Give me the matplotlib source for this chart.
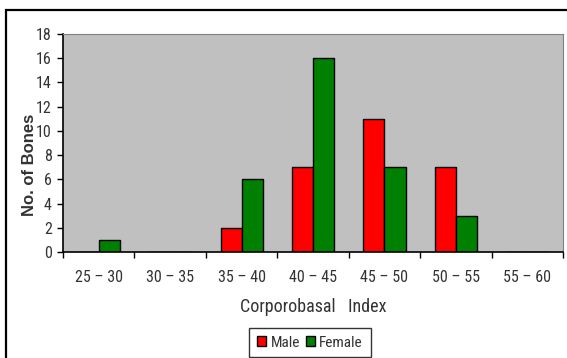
import numpy as np
import matplotlib
matplotlib.use("Agg")
import matplotlib.pyplot as plt
from matplotlib.patches import Rectangle

FONT = ["Roboto Condensed", "DejaVu Sans"]
TXT = "#333333"

categories = ["25 – 30", "30 – 35", "35 – 40", "40 – 45", "45 – 50", "50 – 55", "55 – 60"]
male = [0, 0, 2, 7, 11, 7, 0]
female = [1, 0, 6, 16, 7, 3, 0]

fig = plt.figure(figsize=(5.67, 3.58), dpi=100, facecolor="white")
ax = fig.add_axes([63 / 567, 1 - 252 / 358, 500 / 567, 218 / 358])

# outer chart border (left and top visible)
fig.add_artist(Rectangle((6 / 567, -0.05), 1.1, 1 - 10 / 358 + 0.05,
                         transform=fig.transFigure, fill=False,
                         edgecolor="black", lw=1.6))

x = np.arange(len(categories))
w = 0.295
ax.bar(x - w / 2, male, w, color="#ff0000", edgecolor="black", lw=1, label="Male")
ax.bar(x + w / 2, female, w, color="#008000", edgecolor="black", lw=1, label="Female")

ax.set_facecolor("#c0c0c0")
ax.set_xlim(-0.5, len(categories) - 0.5)
ax.set_ylim(0, 18)
ax.set_yticks(range(0, 19, 2))
ax.set_xticks(x)
ax.set_xticklabels(categories)
ax.set_xticks(np.arange(-0.5, len(categories)), minor=True)
ax.tick_params(axis="x", which="major", length=0, pad=13)
ax.tick_params(axis="x", which="minor", length=4, width=1, direction="out")
ax.tick_params(axis="y", length=4, width=1, direction="out", pad=4)

for lbl in ax.get_xticklabels():
    lbl.set_family(FONT)
    lbl.set_fontsize(11.5)
    lbl.set_color(TXT)
for lbl in ax.get_yticklabels():
    lbl.set_family(FONT)
    lbl.set_fontsize(11.5)
    lbl.set_color(TXT)

for side in ["top", "right"]:
    ax.spines[side].set_color("#808080")
for side in ["left", "bottom"]:
    ax.spines[side].set_color("black")
    ax.spines[side].set_linewidth(1.2)

ax.set_ylabel("No. of Bones", family=["Liberation Sans", "DejaVu Sans"],
              fontsize=12, fontweight="bold", color=TXT)
ax.yaxis.set_label_coords(-0.052, 0.40)
ax.set_xlabel("Corporobasal   Index", family=FONT, fontsize=13,
              color=TXT, labelpad=9)

leg = ax.legend(loc="upper center", bbox_to_anchor=(0.494, -0.349), ncol=2,
                frameon=True, fancybox=False, handlelength=0.6, handleheight=0.6,
                handletextpad=0.3, columnspacing=0.35, borderpad=0.5,
                borderaxespad=0, prop={"family": FONT, "size": 11})
leg.get_frame().set_edgecolor("black")
leg.get_frame().set_linewidth(1)
for t in leg.get_texts():
    t.set_color(TXT)

fig.savefig("out.png", dpi=100)
